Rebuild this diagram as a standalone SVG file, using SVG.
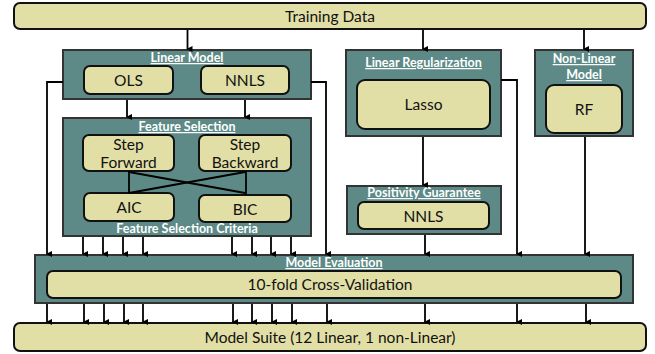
<svg xmlns="http://www.w3.org/2000/svg" width="655" height="354" viewBox="0 0 655 354">
<defs>
<marker id="ah" markerWidth="8" markerHeight="8" refX="4" refY="6" orient="auto" markerUnits="userSpaceOnUse" viewBox="0 0 8 8">
<path d="M1,1 L4,7 L7,1 Z" fill="#000"/>
</marker>
<style>
.grp{fill:#5d8a86;stroke:#333;stroke-width:2}
.box{fill:#e1dfa6;stroke:#111;stroke-width:2}
.t{font-family:Lato,"Open Sans",sans-serif;font-size:15.5px;fill:#111;text-anchor:middle}
.h{font-family:Lato,"Open Sans",sans-serif;font-size:12.5px;font-weight:bold;fill:#fff;text-anchor:middle;text-decoration:underline}
.hn{font-family:Lato,"Open Sans",sans-serif;font-size:12.5px;font-weight:bold;fill:#fff;text-anchor:middle}
.c{fill:none;stroke:#000;stroke-width:1.8}
.a{fill:none;stroke:#000;stroke-width:1.8;marker-end:url(#ah)}
</style>
</defs>
<rect width="655" height="354" fill="#fff"/>

<g id="training-data">
<rect class="box" x="14" y="3" width="632" height="26" rx="6"/>
<text class="t" x="330" y="21.5">Training Data</text>
</g>

<g id="linear-model">
<rect class="grp" x="63" y="50" width="248" height="49"/>
<text class="h" x="187" y="62">Linear Model</text>
<rect class="box" x="84" y="66" width="89" height="28" rx="6"/>
<text class="t" x="128.5" y="86">OLS</text>
<rect class="box" x="201" y="66" width="88" height="28" rx="6"/>
<text class="t" x="245" y="86">NNLS</text>
</g>

<g id="feature-selection">
<rect class="grp" x="63" y="118" width="248" height="118"/>
<text class="h" x="187" y="131">Feature Selection</text>
<rect class="box" x="83" y="135" width="91" height="36" rx="6"/>
<text class="t" x="128.5" y="150">Step</text>
<text class="t" x="128.5" y="168">Forward</text>
<rect class="box" x="199" y="135" width="92" height="36" rx="6"/>
<text class="t" x="245" y="150">Step</text>
<text class="t" x="245" y="168">Backward</text>
<rect class="box" x="84" y="193" width="90" height="28" rx="6"/>
<text class="t" x="129" y="213">AIC</text>
<rect class="box" x="199" y="195" width="92" height="27" rx="6"/>
<text class="t" x="245" y="215">BIC</text>
<text class="hn" x="187" y="233">Feature Selection Criteria</text>
</g>

<g id="linear-regularization">
<rect class="grp" x="346" y="50" width="155" height="86"/>
<text class="h" x="423.5" y="67">Linear Regularization</text>
<rect class="box" x="357" y="80" width="133" height="49" rx="8"/>
<text class="t" x="423.5" y="110">Lasso</text>
</g>

<g id="positivity-guarantee">
<rect class="grp" x="347" y="186" width="154" height="48"/>
<text class="h" x="424" y="197">Positivity Guarantee</text>
<rect class="box" x="358" y="202" width="131" height="27" rx="6"/>
<text class="t" x="423.5" y="221.5">NNLS</text>
</g>

<g id="non-linear-model">
<rect class="grp" x="535" y="50" width="98" height="86"/>
<text class="h" x="584" y="63">Non-Linear</text>
<text class="h" x="584" y="79">Model</text>
<rect class="box" x="546" y="85" width="76" height="48" rx="8"/>
<text class="t" x="584" y="115">RF</text>
</g>

<g id="model-evaluation">
<rect class="grp" x="35" y="255" width="598" height="48"/>
<text class="h" x="334" y="267">Model Evaluation</text>
<rect class="box" x="47" y="271" width="574" height="27" rx="6"/>
<text class="t" x="330" y="290">10-fold Cross-Validation</text>
</g>

<g id="model-suite">
<rect class="box" x="14" y="323" width="632" height="28" rx="6"/>
<text class="t" x="330" y="343">Model Suite (12 Linear, 1 non-Linear)</text>
</g>

<g id="connectors">
<line class="a" x1="187.5" y1="30" x2="187.5" y2="49"/>
<line class="a" x1="423" y1="30" x2="423" y2="49"/>
<line class="a" x1="584" y1="30" x2="584" y2="49"/>

<line class="a" x1="127" y1="100" x2="127" y2="117"/>
<line class="a" x1="245" y1="100" x2="245" y2="117"/>

<polyline class="a" points="63,82 47,82 47,254"/>
<polyline class="a" points="311,82 326,82 326,254"/>

<line class="c" x1="129" y1="171" x2="129" y2="193"/>
<line class="c" x1="246" y1="171" x2="246" y2="195"/>
<line class="c" x1="129" y1="172" x2="245" y2="193"/>
<line class="c" x1="129" y1="193" x2="245" y2="172"/>

<line class="a" x1="83" y1="237" x2="83" y2="254"/>
<line class="a" x1="103" y1="237" x2="103" y2="254"/>
<line class="a" x1="123" y1="237" x2="123" y2="254"/>
<line class="a" x1="143" y1="237" x2="143" y2="254"/>
<line class="a" x1="232" y1="237" x2="232" y2="254"/>
<line class="a" x1="252" y1="237" x2="252" y2="254"/>
<line class="a" x1="271" y1="237" x2="271" y2="254"/>
<line class="a" x1="291" y1="237" x2="291" y2="254"/>

<polyline class="a" points="501,80 517,80 517,254"/>
<line class="a" x1="423" y1="137" x2="423" y2="185"/>
<line class="a" x1="425" y1="235" x2="425" y2="254"/>
<line class="a" x1="585" y1="137" x2="585" y2="254"/>

<line class="a" x1="47" y1="304" x2="47" y2="322"/>
<line class="a" x1="84" y1="304" x2="84" y2="322"/>
<line class="a" x1="104" y1="304" x2="104" y2="322"/>
<line class="a" x1="124" y1="304" x2="124" y2="322"/>
<line class="a" x1="143" y1="304" x2="143" y2="322"/>
<line class="a" x1="233" y1="304" x2="233" y2="322"/>
<line class="a" x1="252" y1="304" x2="252" y2="322"/>
<line class="a" x1="272" y1="304" x2="272" y2="322"/>
<line class="a" x1="292" y1="304" x2="292" y2="322"/>
<line class="a" x1="327" y1="304" x2="327" y2="322"/>
<line class="a" x1="425" y1="304" x2="425" y2="322"/>
<line class="a" x1="517" y1="304" x2="517" y2="322"/>
<line class="a" x1="586" y1="304" x2="586" y2="322"/>
</g>
</svg>
